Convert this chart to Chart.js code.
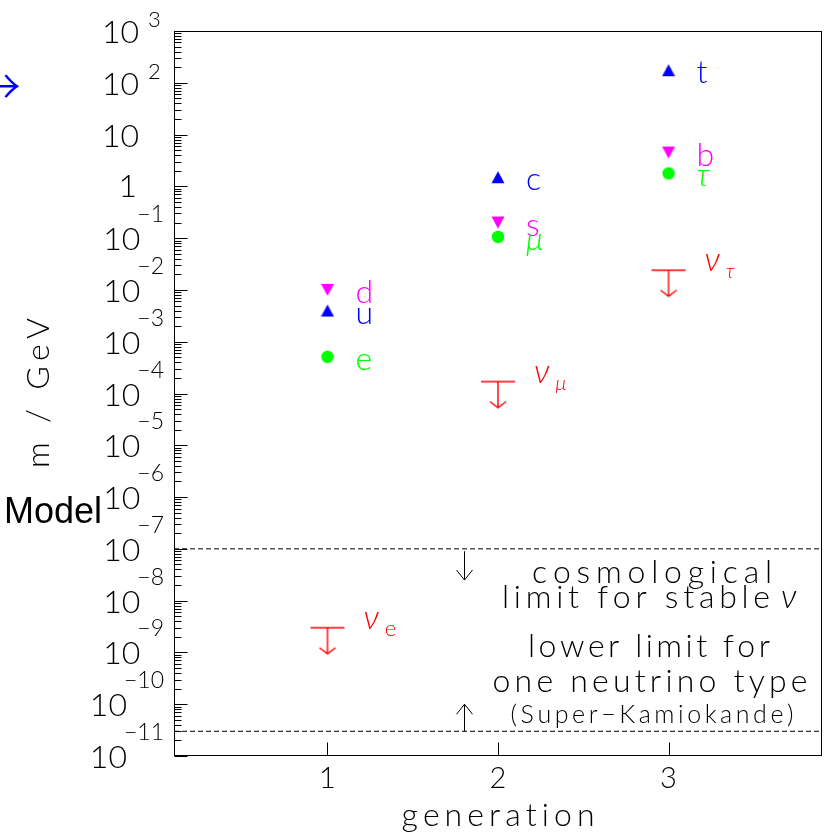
<!DOCTYPE html>
<html>
<head>
<meta charset="utf-8">
<script src="https://cdn.jsdelivr.net/npm/chart.js@4.4.1/dist/chart.umd.min.js"></script>
<style>
  html, body { margin: 0; padding: 0; background: #ffffff; }
  #wrap { width: 827px; height: 835px; position: relative; }
</style>
</head>
<body>
<div id="wrap"><canvas id="chart" width="827" height="835"></canvas></div>
<script>
// Fermion masses (GeV) by generation
const generations = [1, 2, 3];
const upQuarkMass = [0.004, 1.5, 175];          // u, c, t
const downQuarkMass = [0.01, 0.2, 4.5];         // d, s, b
const chargedLeptonMass = [0.000511, 0.1057, 1.777]; // e, mu, tau
const neutrinoMassLimit = [3e-9, 1.7e-4, 0.024];     // upper limits for nu_e, nu_mu, nu_tau

const upQuarkNames = ['u', 'c', 't'];
const downQuarkNames = ['d', 's', 'b'];
const chargedLeptonNames = ['e', 'μ', 'τ'];
const neutrinoFlavours = ['e', 'μ', 'τ'];

// horizontal reference limits (GeV)
const cosmologicalLimit = 1e-7;
const superKamiokandeLimit = 3e-11;
// arrows pointing from the limit lines
const cosmoArrow = { x: 1.8, from: 9e-8, to: 2.5e-8 };
const superKArrow = { x: 1.8, from: 3e-11, to: 1e-10 };

// axis ticks
const yDecades = [3, 2, 1, 0, -1, -2, -3, -4, -5, -6, -7, -8, -9, -10, -11];
const xTickValues = [1, 2, 3];
const xRange = [0.1, 3.9];
const yRange = [1e-11, 1e3];

const BLUE = '#0000ff', MAGENTA = '#ff00ff', GREEN = '#00ff00', RED = '#ff0000';
const FAM = "Lato, 'DejaVu Sans', sans-serif";
const font = (size, style = 'normal', weight = 300) => `${style} ${weight} ${size}px ${FAM}`;

// ---- marker images ----
function makeCanvas(w, h) {
  const c = document.createElement('canvas');
  c.width = w; c.height = h;
  return c;
}
function triangleMarker(color, up) {
  const c = makeCanvas(14, 14), g = c.getContext('2d');
  g.fillStyle = color;
  g.beginPath();
  if (up) { g.moveTo(7, 1); g.lineTo(13.5, 13); g.lineTo(0.5, 13); }
  else { g.moveTo(7, 13); g.lineTo(13.5, 1); g.lineTo(0.5, 1); }
  g.closePath(); g.fill();
  return c;
}
function circleMarker(color) {
  const c = makeCanvas(14, 14), g = c.getContext('2d');
  g.fillStyle = color;
  g.beginPath(); g.arc(7, 7, 6.2, 0, Math.PI * 2); g.fill();
  return c;
}
function upperLimitMarker(color) {
  // bar at the limit with an arrow pointing down
  const c = makeCanvas(40, 60), g = c.getContext('2d');
  g.strokeStyle = color; g.lineWidth = 1.4;
  g.beginPath();
  g.moveTo(3, 30); g.lineTo(37, 30);
  g.moveTo(20, 30); g.lineTo(20, 56);
  g.moveTo(12, 50); g.lineTo(20, 56); g.lineTo(28, 50);
  g.stroke();
  return c;
}

const pts = (ys) => generations.map((x, i) => ({ x, y: ys[i] }));

function spacedText(ctx, text, x, y, width, align) {
  const chars = Array.from(text);
  const widths = chars.map(ch => ctx.measureText(ch).width);
  const raw = widths.reduce((a, b) => a + b, 0);
  const gap = (width && chars.length > 1) ? (width - raw) / (chars.length - 1) : 0;
  const total = width || raw;
  let cx = align === 'center' ? x - total / 2 : align === 'right' ? x - total : x;
  ctx.textAlign = 'left';
  chars.forEach((ch, i) => { ctx.fillText(ch, cx, y); cx += widths[i] + gap; });
  return total;
}

function vArrow(ctx, x, y1, y2, half, head) {
  const dir = Math.sign(y2 - y1);
  ctx.beginPath();
  ctx.moveTo(x, y1); ctx.lineTo(x, y2);
  ctx.moveTo(x - half, y2 - dir * head); ctx.lineTo(x, y2); ctx.lineTo(x + half, y2 - dir * head);
  ctx.stroke();
}

const framePlugin = {
  id: 'frame',
  afterDraw(chart) {
    const ctx = chart.ctx, a = chart.chartArea;
    const xs = chart.scales.x, ys = chart.scales.y;
    ctx.save();
    ctx.strokeStyle = '#000'; ctx.lineWidth = 1;
    const L = Math.round(a.left) + 0.5, R = Math.round(a.right) - 0.5;
    const T = Math.round(a.top) + 0.5, B = Math.round(a.bottom) - 0.5;
    ctx.strokeRect(L, T, R - L, B - T);

    // y ticks (decades long, 2..9 short), pointing inward
    ctx.beginPath();
    for (let k = -11; k <= 3; k++) {
      const yp = Math.round(ys.getPixelForValue(Math.pow(10, k))) + 0.5;
      ctx.moveTo(L, yp); ctx.lineTo(L + 13, yp);
      if (k < 3) {
        for (let m = 2; m <= 9; m++) {
          const ym = Math.round(ys.getPixelForValue(m * Math.pow(10, k))) + 0.5;
          ctx.moveTo(L, ym); ctx.lineTo(L + 7, ym);
        }
      }
    }
    // x ticks
    xTickValues.forEach(v => {
      const xp = Math.round(xs.getPixelForValue(v)) + 0.5;
      ctx.moveTo(xp, B); ctx.lineTo(xp, B - 13);
    });
    ctx.stroke();

    // y tick labels
    ctx.fillStyle = '#000';
    ctx.textBaseline = 'alphabetic';
    yDecades.forEach(k => {
      const yp = ys.getPixelForValue(Math.pow(10, k));
      if (k === 0) {
        ctx.font = font(32); ctx.textAlign = 'right';
        ctx.fillText('1', 137, yp + 11);
      } else if (k === 1) {
        ctx.font = font(32); ctx.textAlign = 'right';
        ctx.fillText('10', 139, yp + 12);
      } else if (k > 1) {
        ctx.font = font(32); ctx.textAlign = 'right';
        ctx.fillText('10', 139, yp + 12);
        ctx.font = font(22); ctx.textAlign = 'left';
        ctx.fillText(String(k), 148, yp - 4);
      } else {
        const exp = '\u2212' + String(-k);
        ctx.font = font(23); ctx.textAlign = 'right';
        const w = ctx.measureText(exp).width;
        ctx.fillText(exp, 164, yp - 16);
        ctx.font = font(32);
        ctx.fillText('10', 164 - w + 3, yp + 12);
      }
    });

    // x tick labels
    ctx.font = font(29); ctx.textAlign = 'center';
    xTickValues.forEach(v => ctx.fillText(String(v), xs.getPixelForValue(v), 788));

    // axis titles
    ctx.font = font(32);
    spacedText(ctx, 'generation', (a.left + a.right) / 2, 826, 193, 'center');
    ctx.save();
    ctx.translate(49, 393);
    ctx.rotate(-Math.PI / 2);
    spacedText(ctx, 'm / GeV', 0, 0, 150, 'center');
    ctx.restore();

    // particle names beside the markers
    const nameSets = [
      [upQuarkMass, upQuarkNames, BLUE],
      [downQuarkMass, downQuarkNames, MAGENTA],
    ];
    nameSets.forEach(([vals, names, col]) => {
      ctx.fillStyle = col; ctx.font = font(32); ctx.textAlign = 'left';
      vals.forEach((v, i) => {
        ctx.fillText(names[i], xs.getPixelForValue(generations[i]) + 28, ys.getPixelForValue(v) + 13);
      });
    });
    ctx.fillStyle = GREEN; ctx.textAlign = 'left';
    chargedLeptonMass.forEach((v, i) => {
      ctx.font = i === 0 ? font(32) : font(32, 'italic');
      ctx.fillText(chargedLeptonNames[i], xs.getPixelForValue(generations[i]) + 28, ys.getPixelForValue(v) + 13);
    });
    ctx.fillStyle = RED;
    neutrinoMassLimit.forEach((v, i) => {
      const xp = xs.getPixelForValue(generations[i]) + 36;
      const yp = ys.getPixelForValue(v);
      ctx.font = font(33, 'italic');
      ctx.textAlign = 'left';
      ctx.fillText('ν', xp, yp + 1);
      const w = ctx.measureText('ν').width;
      ctx.font = i === 0 ? font(22) : font(20, 'italic');
      ctx.fillText(neutrinoFlavours[i], xp + w + 6, yp + 8);
    });

    // limit annotations
    ctx.fillStyle = '#000'; ctx.strokeStyle = '#000'; ctx.lineWidth = 1;
    const ax = Math.round(xs.getPixelForValue(cosmoArrow.x)) + 0.5;
    vArrow(ctx, ax, ys.getPixelForValue(cosmoArrow.from), ys.getPixelForValue(cosmoArrow.to), 8, 10);
    const bx = Math.round(xs.getPixelForValue(superKArrow.x)) + 0.5;
    vArrow(ctx, bx, ys.getPixelForValue(superKArrow.from), ys.getPixelForValue(superKArrow.to), 8, 10);

    ctx.font = font(32);
    spacedText(ctx, 'cosmological', 652, 583, 240, 'center');
    spacedText(ctx, 'limit for stable', 502, 608, 268, 'left');
    ctx.font = font(33, 'italic');
    ctx.fillText('ν', 781, 608);
    ctx.font = font(32);
    spacedText(ctx, 'lower limit for', 649, 657, 242, 'center');
    spacedText(ctx, 'one neutrino type', 650, 692, 315, 'center');
    ctx.font = font(25);
    spacedText(ctx, '(Super\u2212Kamiokande)', 652, 723, 283, 'center');

    // stray labels at the left margin
    ctx.fillStyle = BLUE;
    ctx.font = "normal 300 50px 'Noto Sans CJK SC', 'DejaVu Sans', sans-serif";
    ctx.textAlign = 'right';
    ctx.fillText('→', 21, 105);
    ctx.fillStyle = '#000';
    ctx.font = "normal 400 36px 'Liberation Sans', Arial, sans-serif";
    ctx.textAlign = 'left';
    ctx.fillText('Model', 4, 523);
    ctx.restore();
  }
};

new Chart(document.getElementById('chart'), {
  type: 'scatter',
  data: {
    datasets: [
      { label: 'up-type quarks', data: pts(upQuarkMass), pointStyle: triangleMarker(BLUE, true) },
      { label: 'down-type quarks', data: pts(downQuarkMass), pointStyle: triangleMarker(MAGENTA, false) },
      { label: 'charged leptons', data: pts(chargedLeptonMass), pointStyle: circleMarker(GREEN) },
      { label: 'neutrinos', data: pts(neutrinoMassLimit), pointStyle: upperLimitMarker(RED) },
      {
        type: 'line', label: 'cosmological limit',
        data: xRange.map(x => ({ x, y: cosmologicalLimit })),
        borderColor: '#000', borderWidth: 1, borderDash: [5, 3], pointRadius: 0, fill: false
      },
      {
        type: 'line', label: 'Super-Kamiokande',
        data: xRange.map(x => ({ x, y: superKamiokandeLimit })),
        borderColor: '#000', borderWidth: 1, borderDash: [5, 3], pointRadius: 0, fill: false
      }
    ]
  },
  options: {
    responsive: false,
    animation: false,
    devicePixelRatio: 1,
    layout: { padding: { left: 174, top: 31, right: 5, bottom: 79 } },
    plugins: { legend: { display: false }, tooltip: { enabled: false } },
    scales: {
      x: { type: 'linear', min: xRange[0], max: xRange[1], display: false },
      y: { type: 'logarithmic', min: yRange[0], max: yRange[1], display: false }
    }
  },
  plugins: [framePlugin]
});
</script>
</body>
</html>
